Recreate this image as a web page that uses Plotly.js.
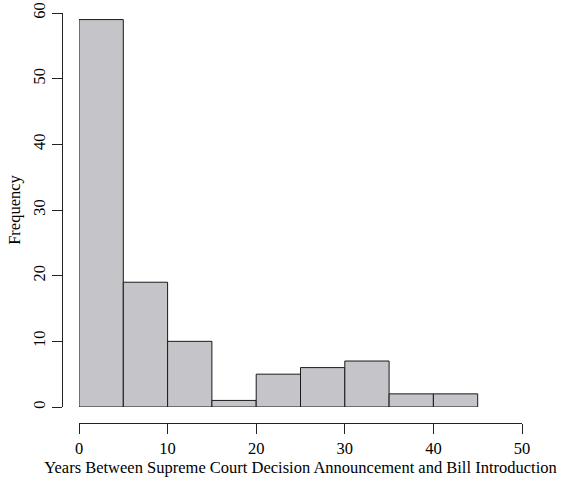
<!DOCTYPE html>
<html>
<head>
<meta charset="utf-8">
<script src="https://cdn.plot.ly/plotly-3.0.1.min.js"></script>
<style>html,body{margin:0;padding:0;background:#fff}#chart{width:562px;height:477px}</style>
</head>
<body>
<div id="chart"></div>
<script>
const binStarts = [0, 5, 10, 15, 20, 25, 30, 35, 40];
const binWidth = 5;
const counts = [59, 19, 10, 1, 5, 6, 7, 2, 2];
const xTicks = [0, 10, 20, 30, 40, 50];
const yTicks = [0, 10, 20, 30, 40, 50, 60];
const xTitle = "Years Between Supreme Court Decision Announcement and Bill Introduction";
const yTitle = "Frequency";

const font = {family: "Liberation Serif, Times New Roman, serif", size: 16.5, color: "#000"};

const trace = {
  type: "bar",
  x: binStarts.map(s => s + binWidth / 2),
  y: counts,
  width: binWidth,
  marker: {color: "#c4c4c9", line: {color: "#1a1a1a", width: 1}},
  hoverinfo: "skip"
};

const layout = {
  width: 562, height: 477,
  margin: {l: 62, r: 22, t: 0, b: 54, pad: 0},
  paper_bgcolor: "#fff", plot_bgcolor: "#fff",
  font: font,
  showlegend: false,
  bargap: 0,
  xaxis: {
    domain: [17/478, 460/478],
    range: [0, 50],
    anchor: "free", position: 0,
    showline: true, linecolor: "#222", linewidth: 1,
    ticks: "outside", ticklen: 10, tickcolor: "#222", tickwidth: 1,
    tickvals: xTicks, ticktext: xTicks.map(String),
    showgrid: false, zeroline: false,
    tickfont: font,
    title: {text: xTitle, font: font, standoff: 2}
  },
  yaxis: {
    domain: [16/423, 410/423],
    range: [0, 60],
    anchor: "free", position: 0,
    showline: true, linecolor: "#222", linewidth: 1,
    ticks: "outside", ticklen: 10, tickcolor: "#222", tickwidth: 1,
    tickvals: yTicks, ticktext: yTicks.map(String),
    tickangle: -90,
    showgrid: false, zeroline: false,
    tickfont: font,
    title: {text: yTitle, font: font, standoff: 4}
  }
};

Plotly.newPlot("chart", [trace], layout, {staticPlot: true, displayModeBar: false});
</script>
</body>
</html>
